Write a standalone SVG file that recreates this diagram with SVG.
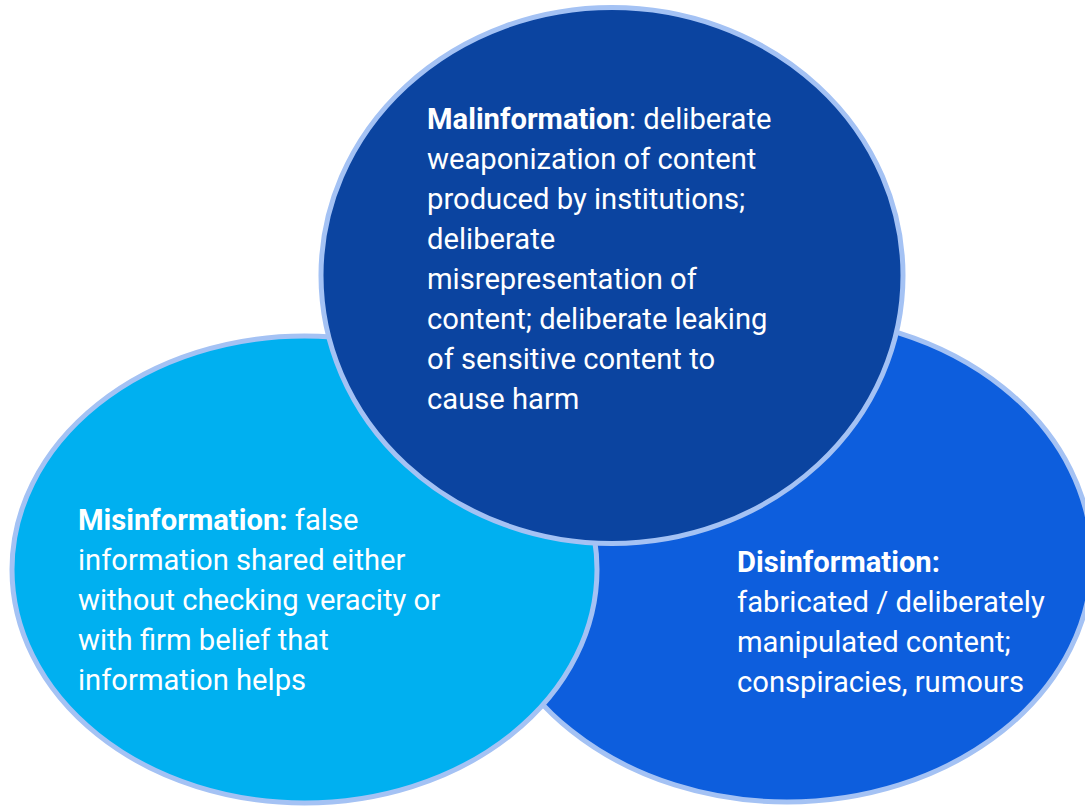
<svg xmlns="http://www.w3.org/2000/svg" width="1085" height="808" viewBox="0 0 1085 808">
<style>
.c{stroke:#a4c2f4;stroke-width:5}
.t{font-family:Roboto,"Liberation Sans",sans-serif;font-size:29.2px;font-weight:400;fill:#ffffff}
.b{font-weight:bold}
</style>
<rect width="1085" height="808" fill="#ffffff"/>
<g id="disinformation">
<ellipse class="c" cx="787" cy="559" rx="305" ry="243" fill="#0d5edd"/>
<text class="t" x="737" y="572"><tspan class="b">Disinformation:</tspan></text>
<text class="t" x="737" y="612">fabricated / deliberately</text>
<text class="t" x="737" y="652">manipulated content;</text>
<text class="t" x="737" y="692">conspiracies, rumours</text>
</g>
<g id="misinformation">
<ellipse class="c" cx="304.5" cy="569.5" rx="292.5" ry="233.5" fill="#00b0f0"/>
<text class="t" x="78" y="530"><tspan class="b">Misinformation:</tspan> false</text>
<text class="t" x="78" y="570">information shared either</text>
<text class="t" x="78" y="610">without checking veracity or</text>
<text class="t" x="78" y="650">with firm belief that</text>
<text class="t" x="78" y="690">information helps</text>
</g>
<g id="malinformation">
<ellipse class="c" cx="612" cy="275.5" rx="291" ry="268" fill="#0b44a0"/>
<text class="t" x="427" y="129"><tspan class="b">Malinformation</tspan>: deliberate</text>
<text class="t" x="427" y="169">weaponization of content</text>
<text class="t" x="427" y="209">produced by institutions;</text>
<text class="t" x="427" y="249">deliberate</text>
<text class="t" x="427" y="289">misrepresentation of</text>
<text class="t" x="427" y="329">content; deliberate leaking</text>
<text class="t" x="427" y="369">of sensitive content to</text>
<text class="t" x="427" y="409">cause harm</text>
</g>
<g id="connectors"/>
</svg>
